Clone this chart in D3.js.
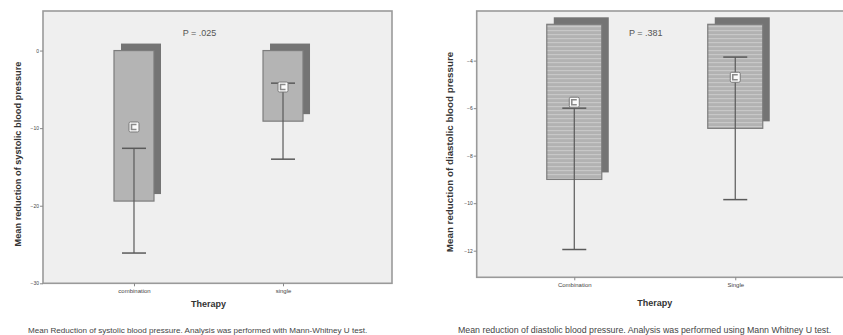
<!DOCTYPE html>
<html>
<head>
<meta charset="utf-8">
<script src="https://cdn.jsdelivr.net/npm/d3@7"></script>
<style>
  body { margin: 0; background: #fff; }
  svg { display: block; font-family: "Liberation Sans", Arial, sans-serif; }
</style>
</head>
<body>
<svg id="chart" width="843" height="335"></svg>
<script>
// systolic panel
const systolicGroups = [ 'combination', 'single' ] ;
const systolicBarEnd = [ -19.4, -9.1 ] ;
const systolicMean = [ -9.85, -4.7 ] ;
const systolicErrTop = [ -12.6, -4.2 ] ;
const systolicErrBottom = [ -26.1, -14.0 ] ;
const systolicTicks = [ 0, -10, -20, -30 ] ;

// diastolic panel
const diastolicGroups = [ 'Combination', 'Single' ] ;
const diastolicBarEnd = [ -9.0, -6.85 ] ;
const diastolicMean = [ -5.75, -4.7 ] ;
const diastolicErrTop = [ -6.0, -3.85 ] ;
const diastolicErrBottom = [ -11.95, -9.85 ] ;
const diastolicTicks = [ -4, -6, -8, -10, -12 ] ;

const svg = d3.select( '#chart' ) ;

const defs = svg.append( 'defs' ) ;
const stripes = defs.append( 'pattern' )
	.attr( 'id', 'stripes' )
	.attr( 'patternUnits', 'userSpaceOnUse' )
	.attr( 'width', 8 )
	.attr( 'height', 4 ) ;
stripes.append( 'rect' ).attr( 'width', 8 ).attr( 'height', 4 ).attr( 'fill', '#b2b2b2' ) ;
stripes.append( 'rect' ).attr( 'y', 2 ).attr( 'width', 8 ).attr( 'height', 1.2 ).attr( 'fill', '#c8c8c8' ) ;

function panel( opts ) {
	const g = svg.append( 'g' ) ;
	const f = opts.frame ;

	let y = d3.scaleLinear()
		.domain( opts.domain )
		.range( [ f.bottom, f.top ] ) ;
	let x = d3.scalePoint()
		.domain( opts.groups )
		.range( [ f.left, f.right ] )
		.padding( opts.padding )
		.align( opts.align ) ;

	g.append( 'rect' )
		.attr( 'x', f.left )
		.attr( 'y', f.top )
		.attr( 'width', f.right - f.left )
		.attr( 'height', f.bottom - f.top )
		.attr( 'fill', '#efefef' )
		.attr( 'stroke', '#9a9a9a' )
		.attr( 'stroke-width', 1.6 ) ;

	let data = opts.groups.map( (d, i) => ({
		group: d,
		end: opts.barEnd[i],
		mean: opts.mean[i],
		top: opts.errTop[i],
		bottom: opts.errBottom[i]
	}) ) ;

	const bw = opts.barWidth, off = 7 ;

	// shadow
	g.selectAll( 'rect.shadow' )
		.data( data )
		.enter()
		.append( 'rect' )
		.attr( 'class', 'shadow' )
		.attr( 'x', d => x(d.group) - bw/2 + off )
		.attr( 'y', y(opts.base) - off )
		.attr( 'width', bw )
		.attr( 'height', d => y(d.end) - y(opts.base) )
		.attr( 'fill', '#747474' ) ;

	g.selectAll( 'rect.bar' )
		.data( data )
		.enter()
		.append( 'rect' )
		.attr( 'class', 'bar' )
		.attr( 'x', d => x(d.group) - bw/2 )
		.attr( 'y', y(opts.base) )
		.attr( 'width', bw )
		.attr( 'height', d => y(d.end) - y(opts.base) )
		.attr( 'fill', opts.fill )
		.attr( 'stroke', '#7c7c7c' )
		.attr( 'stroke-width', 1.2 ) ;

	// error bars
	g.selectAll( 'line.err' )
		.data( data )
		.enter()
		.append( 'line' )
		.attr( 'class', 'err' )
		.attr( 'x1', d => x(d.group) )
		.attr( 'x2', d => x(d.group) )
		.attr( 'y1', d => y(d.top) )
		.attr( 'y2', d => y(d.bottom) )
		.attr( 'stroke', '#5a5a5a' )
		.attr( 'stroke-width', 1.2 ) ;

	[ 'top', 'bottom' ].forEach( k => {
		g.selectAll( 'line.cap-' + k )
			.data( data )
			.enter()
			.append( 'line' )
			.attr( 'class', 'cap-' + k )
			.attr( 'x1', d => x(d.group) - 12 )
			.attr( 'x2', d => x(d.group) + 12 )
			.attr( 'y1', d => y(d[k]) )
			.attr( 'y2', d => y(d[k]) )
			.attr( 'stroke', '#5a5a5a' )
			.attr( 'stroke-width', 1.5 ) ;
	} ) ;

	// mean markers
	let m = g.selectAll( 'g.mean' )
		.data( data )
		.enter()
		.append( 'g' )
		.attr( 'class', 'mean' )
		.attr( 'transform', d => 'translate(' + x(d.group) + ' ' + y(d.mean) + ')' ) ;
	m.append( 'rect' )
		.attr( 'x', -5 ).attr( 'y', -5 )
		.attr( 'width', 10 ).attr( 'height', 10 )
		.attr( 'rx', 1.5 )
		.attr( 'fill', '#fafafa' )
		.attr( 'stroke', '#7a7a7a' )
		.attr( 'stroke-width', 1 ) ;
	m.append( 'path' )
		.attr( 'd', 'M2.5,-2.5 H-2.5 V2.5 H2.5' )
		.attr( 'fill', 'none' )
		.attr( 'stroke', '#8a8a8a' )
		.attr( 'stroke-width', 1.6 ) ;

	// axes
	g.append( 'g' )
		.attr( 'transform', 'translate(' + f.left + ' 0)' )
		.call( d3.axisLeft(y).tickValues( opts.ticks ).tickSize( 3 ).tickPadding( 1 ) )
		.call( a => a.select( '.domain' ).remove() )
		.attr( 'font-size', '5px' )
		.attr( 'font-family', null )
		.call( a => a.selectAll( 'text' ).attr( 'fill', '#444' ) )
		.call( a => a.selectAll( 'line' ).attr( 'stroke', '#888' ) ) ;

	g.append( 'g' )
		.attr( 'transform', 'translate(0 ' + f.bottom + ')' )
		.call( d3.axisBottom(x).tickSize( 3 ).tickPadding( 2 ) )
		.call( a => a.select( '.domain' ).remove() )
		.attr( 'font-size', '6px' )
		.attr( 'font-family', null )
		.call( a => a.selectAll( 'text' ).attr( 'fill', '#444' ) )
		.call( a => a.selectAll( 'line' ).attr( 'stroke', '#888' ) ) ;

	const mid = ( x(opts.groups[0]) + x(opts.groups[1]) ) / 2 ;

	g.append( 'text' )
		.attr( 'x', mid - 9 )
		.attr( 'y', f.top + 25 )
		.attr( 'text-anchor', 'middle' )
		.attr( 'font-size', '9px' )
		.attr( 'fill', '#555' )
		.text( opts.p ) ;

	g.append( 'text' )
		.attr( 'x', mid )
		.attr( 'y', f.bottom + opts.titleGap )
		.attr( 'text-anchor', 'middle' )
		.attr( 'font-size', '9px' )
		.attr( 'font-weight', 'bold' )
		.attr( 'fill', '#333' )
		.text( 'Therapy' ) ;

	g.append( 'text' )
		.attr( 'transform', 'translate(' + opts.ylabelX + ' ' + opts.ylabelY + ') rotate(-90)' )
		.attr( 'text-anchor', 'middle' )
		.attr( 'font-size', opts.ylabelSize )
		.attr( 'font-weight', 'bold' )
		.attr( 'fill', '#333' )
		.text( opts.ylabel ) ;

	g.append( 'text' )
		.attr( 'x', opts.captionX )
		.attr( 'y', 333 )
		.attr( 'font-size', opts.captionSize )
		.attr( 'fill', '#444' )
		.text( opts.caption ) ;
}

panel( {
	frame: { left: 43, right: 392, top: 11, bottom: 283.3 },
	domain: [ -30, 5.1 ],
	base: 0,
	groups: systolicGroups,
	barEnd: systolicBarEnd,
	mean: systolicMean,
	errTop: systolicErrTop,
	errBottom: systolicErrBottom,
	ticks: systolicTicks,
	padding: 0.671,
	align: 0.455,
	barWidth: 40,
	fill: '#b4b4b4',
	p: 'P = .025',
	titleGap: 24,
	ylabel: 'Mean reduction of systolic blood pressure',
	ylabelX: 21,
	ylabelY: 154,
	ylabelSize: '9.2px',
	caption: 'Mean Reduction of systolic blood pressure. Analysis was performed with Mann-Whitney U test.',
	captionX: 28,
	captionSize: '8.1px'
} ) ;

panel( {
	frame: { left: 476.7, right: 855, top: 11, bottom: 277.3 },
	domain: [ -13.12, -1.91 ],
	base: -2.47,
	groups: diastolicGroups,
	barEnd: diastolicBarEnd,
	mean: diastolicMean,
	errTop: diastolicErrTop,
	errBottom: diastolicErrBottom,
	ticks: diastolicTicks,
	padding: 0.675,
	align: 0.449,
	barWidth: 55,
	fill: 'url(#stripes)',
	p: 'P = .381',
	titleGap: 29,
	ylabel: 'Mean reduction of diastolic blood pressure',
	ylabelX: 453,
	ylabelY: 152,
	ylabelSize: '9.8px',
	caption: 'Mean reduction of diastolic blood pressure. Analysis was performed using Mann Whitney U test.',
	captionX: 458,
	captionSize: '8.8px'
} ) ;
</script>
</body>
</html>
